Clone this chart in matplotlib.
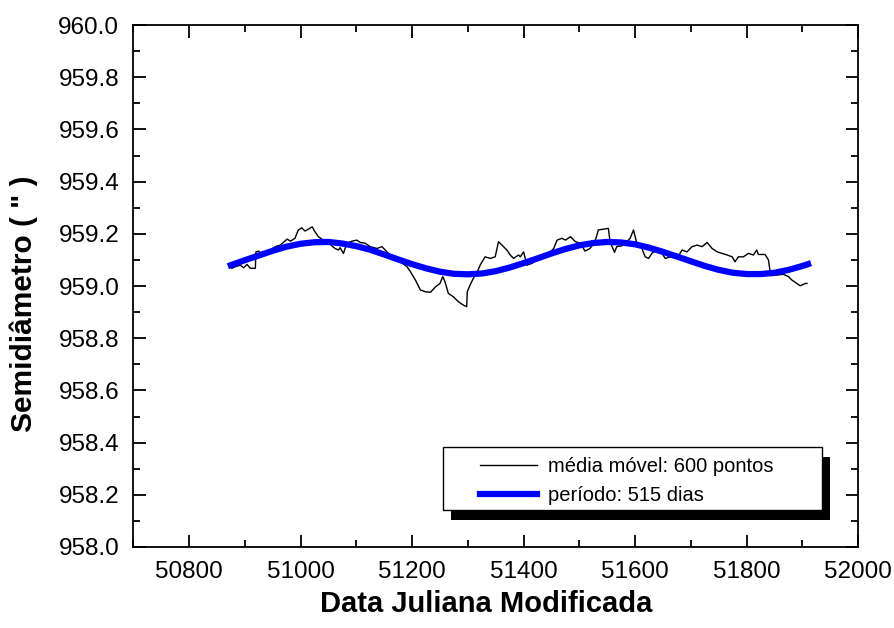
import matplotlib
matplotlib.use("Agg")
import matplotlib.pyplot as plt
from matplotlib.patches import Rectangle
from matplotlib.ticker import MultipleLocator

plt.rcParams['font.family'] = ['Liberation Sans', 'DejaVu Sans']

# moving average (600 points)
mjd_avg = [50877, 50883, 50892, 50898, 50904, 50910, 50919, 50920, 50925, 50931,
           50940, 50955, 50964, 50976, 50982, 50990, 50996, 51002, 51008, 51014,
           51021, 51025, 51032, 51041, 51050, 51056, 51062, 51068, 51071, 51077,
           51083, 51092, 51101, 51107, 51116, 51125, 51137, 51146, 51155, 51164,
           51179, 51191, 51197, 51206, 51215, 51224, 51233, 51242, 51250, 51255,
           51259, 51265, 51274, 51283, 51292, 51298, 51299, 51304, 51310, 51316,
           51322, 51331, 51340, 51349, 51355, 51361, 51370, 51376, 51382, 51391,
           51394, 51400, 51406, 51415, 51424, 51433, 51445, 51454, 51460, 51469,
           51475, 51484, 51493, 51502, 51510, 51519, 51528, 51534, 51543, 51552,
           51555, 51563, 51567, 51576, 51585, 51591, 51597, 51603, 51612, 51618,
           51624, 51630, 51642, 51654, 51663, 51675, 51684, 51693, 51702, 51711,
           51720, 51729, 51738, 51747, 51756, 51765, 51774, 51779, 51785, 51794,
           51803, 51812, 51818, 51821, 51833, 51839, 51843, 51854, 51866, 51875,
           51881, 51890, 51896, 51905, 51908]
semi_avg = [959.068, 959.074, 959.080, 959.070, 959.083, 959.068, 959.068, 959.131, 959.134, 959.121,
            959.131, 959.151, 959.157, 959.180, 959.172, 959.183, 959.215, 959.223, 959.211, 959.218,
            959.227, 959.211, 959.189, 959.176, 959.170, 959.154, 959.144, 959.138, 959.147, 959.125,
            959.164, 959.172, 959.176, 959.167, 959.164, 959.151, 959.144, 959.151, 959.131, 959.112,
            959.093, 959.074, 959.055, 959.023, 958.985, 958.978, 958.976, 958.997, 959.010, 959.036,
            959.017, 958.972, 958.959, 958.940, 958.927, 958.921, 958.978, 959.004, 959.030, 959.049,
            959.080, 959.112, 959.106, 959.112, 959.170, 959.157, 959.138, 959.119, 959.106, 959.119,
            959.112, 959.131, 959.080, 959.087, 959.100, 959.112, 959.125, 959.144, 959.176, 959.183,
            959.176, 959.189, 959.170, 959.164, 959.134, 959.144, 959.170, 959.215, 959.218, 959.221,
            959.170, 959.129, 959.151, 959.154, 959.170, 959.183, 959.215, 959.164, 959.144, 959.112,
            959.106, 959.125, 959.144, 959.106, 959.112, 959.106, 959.138, 959.131, 959.151, 959.157,
            959.151, 959.167, 959.144, 959.131, 959.125, 959.119, 959.112, 959.093, 959.112, 959.112,
            959.125, 959.119, 959.138, 959.121, 959.121, 959.100, 959.040, 959.042, 959.045, 959.036,
            959.023, 959.010, 959.001, 959.010, 959.010]

# fitted curve, period 515 days
mjd_fit = [50875, 50900, 50925, 50950, 50975, 51000, 51025, 51050, 51075, 51100,
           51125, 51150, 51175, 51200, 51225, 51250, 51275, 51300, 51325, 51350,
           51375, 51400, 51425, 51450, 51475, 51500, 51525, 51550, 51575, 51600,
           51625, 51650, 51675, 51700, 51725, 51750, 51775, 51800, 51825, 51850,
           51875, 51900, 51910]
semi_fit = [959.080, 959.099, 959.117, 959.135, 959.151, 959.162, 959.168, 959.169, 959.163, 959.153,
            959.139, 959.121, 959.102, 959.084, 959.068, 959.055, 959.047, 959.045, 959.048, 959.057,
            959.071, 959.088, 959.106, 959.125, 959.142, 959.156, 959.165, 959.169, 959.167, 959.160,
            959.147, 959.131, 959.113, 959.095, 959.077, 959.062, 959.051, 959.046, 959.046, 959.051,
            959.062, 959.077, 959.084]

fig = plt.figure(figsize=(8.94, 6.28), dpi=100)
ax = fig.add_axes([0.149, 0.129, 0.811, 0.831])

ax.plot(mjd_avg, semi_avg, color='black', lw=1.0, label='média móvel: 600 pontos')
ax.plot(mjd_fit, semi_fit, color='#0000ff', lw=4.5, label='período: 515 dias')

ax.set_xlim(50700, 52000)
ax.set_ylim(958.0, 960.0)
ax.xaxis.set_major_locator(MultipleLocator(200))
ax.xaxis.set_minor_locator(MultipleLocator(100))
ax.yaxis.set_major_locator(MultipleLocator(0.2))
ax.yaxis.set_minor_locator(MultipleLocator(0.1))
ax.yaxis.set_major_formatter(plt.FormatStrFormatter('%.1f'))
ax.tick_params(which='both', direction='in', top=True, right=True, width=1.3)
ax.tick_params(which='major', length=9, labelsize=17.5, pad=10)
ax.tick_params(which='minor', length=5)
for s in ax.spines.values():
    s.set_linewidth(1.3)

ax.set_xlabel('Data Juliana Modificada', fontsize=21, fontweight='bold')
ax.set_ylabel('Semidiâmetro ( " )', fontsize=21.5, fontweight='bold')
ax.xaxis.set_label_coords(0.487, -0.083)
ax.yaxis.set_label_coords(-0.132, 0.466)

# legend box with a solid drop shadow
ax.add_patch(Rectangle((0.4386, 0.052), 0.5228, 0.1207, transform=ax.transAxes,
                       facecolor='black', edgecolor='none', zorder=5))
ax.add_patch(Rectangle((0.4276, 0.0709), 0.5228, 0.1207, transform=ax.transAxes,
                       facecolor='white', edgecolor='black', lw=1.0, zorder=6))
leg = ax.legend(loc='center left', bbox_to_anchor=(0.4786, 0.1264),
                fontsize=14.5, frameon=False, handlelength=2.8,
                handletextpad=0.55, labelspacing=0.45, borderpad=0,
                borderaxespad=0)
leg.set_zorder(7)

fig.savefig('out.png', dpi=100)
